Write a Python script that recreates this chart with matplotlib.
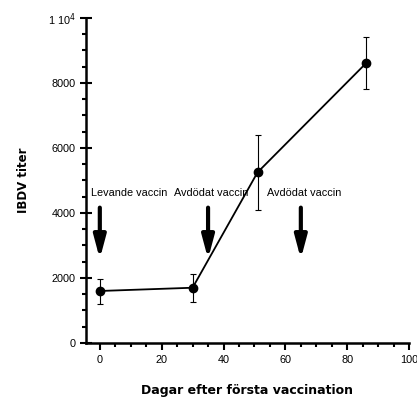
import matplotlib
matplotlib.use('Agg')
import matplotlib.pyplot as plt
from matplotlib.ticker import MultipleLocator, FuncFormatter

days = [0, 30, 51, 86]
titer = [1600, 1700, 5250, 8600]
err_low = [400, 450, 1150, 780]
err_high = [380, 420, 1150, 800]

arrow_x = [0, 35, 65]
arrow_labels = ['Levande vaccin', 'Avdödat vaccin', 'Avdödat vaccin']

narrow = ['Liberation Sans Narrow', 'Liberation Sans', 'DejaVu Sans']

fig = plt.figure(figsize=(4.17, 3.99), dpi=100)
ax = fig.add_axes([0.206, 0.1404, 0.775, 0.8145])

ax.errorbar(days, titer, yerr=[err_low, err_high], fmt='o-', color='black',
            ms=6, lw=1.3, elinewidth=0.8, capsize=2.5, capthick=0.8, clip_on=False)

for x, lab in zip(arrow_x, arrow_labels):
    ax.annotate('', xy=(x, 2500), xytext=(x, 4250),
                arrowprops=dict(arrowstyle='-|>,head_width=0.2,head_length=0.75',
                                lw=3, color='black', mutation_scale=18))
    if x == 0:
        ax.text(-3, 4600, lab, ha='left', va='center', fontsize=7.8, family=narrow)
    else:
        ax.text(x + 1, 4600, lab, ha='center', va='center', fontsize=7.8, family=narrow)

ax.set_xlim(-4.5, 100)
ax.set_ylim(0, 10000)
ax.spines['top'].set_visible(False)
ax.spines['right'].set_visible(False)
ax.spines['left'].set_linewidth(1.8)
ax.spines['bottom'].set_linewidth(1.8)

ax.xaxis.set_major_locator(MultipleLocator(20))
ax.xaxis.set_minor_locator(MultipleLocator(5))
ax.yaxis.set_major_locator(MultipleLocator(2000))
ax.yaxis.set_minor_locator(MultipleLocator(500))
ax.yaxis.set_major_formatter(FuncFormatter(lambda v, p: r'1 10$^4$' if v == 10000 else '%d' % v))

ax.tick_params(axis='x', which='major', direction='out', length=5, width=1.5)
ax.tick_params(axis='x', which='minor', direction='out', length=3, width=1.5)
ax.tick_params(axis='y', which='major', direction='inout', length=8, width=1.5)
ax.tick_params(axis='y', which='minor', direction='out', length=3, width=1.5)
for t in ax.get_xticklabels() + ax.get_yticklabels():
    t.set_family(narrow)
    t.set_fontsize(7.8)

ax.set_xlabel('Dagar efter första vaccination', fontsize=9, fontweight='heavy', labelpad=14)
ax.set_ylabel('IBDV titer', fontsize=8.5, fontweight='bold', labelpad=13)

fig.savefig('out.png', dpi=100)
